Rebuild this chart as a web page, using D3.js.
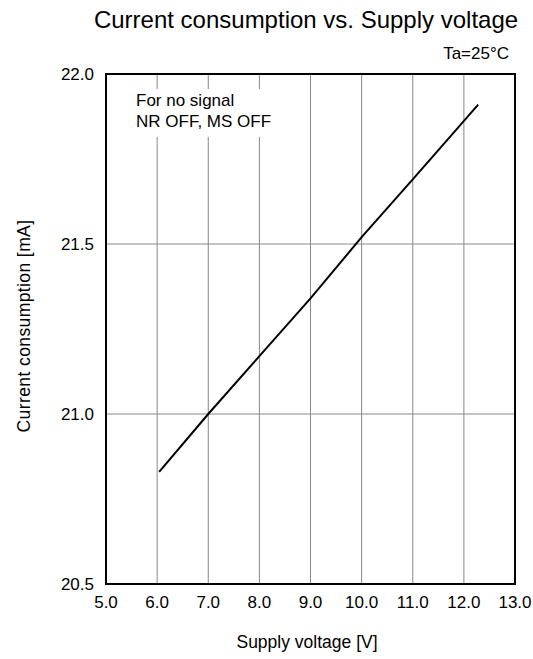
<!DOCTYPE html>
<html>
<head>
<meta charset="utf-8">
<script src="https://cdn.jsdelivr.net/npm/d3@7"></script>
<style>
body { margin:0; background:#fff; }
text { font-family: "Liberation Sans", Arial, sans-serif; fill:#000; }
</style>
</head>
<body>
<div id="chart"></div>
<script>
var voltage = [6.04, 7.0, 8.0, 9.0, 10.0, 11.0, 12.28];
var current = [20.83, 21.0, 21.17, 21.34, 21.52, 21.69, 21.91];
var xTicks = [5, 6, 7, 8, 9, 10, 11, 12, 13];
var yTicks = [20.5, 21.0, 21.5, 22.0];

var margin = {top: 74, right: 18, bottom: 75, left: 106};
var W = 533, H = 659;
var width = W - margin.left - margin.right;
var height = H - margin.top - margin.bottom;

var svg = d3.select("#chart").append("svg")
    .attr("width", W).attr("height", H);

var g = svg.append("g")
    .attr("transform", "translate(" + margin.left + "," + margin.top + ")");

var x = d3.scaleLinear().domain([5, 13]).range([0, width]);
var y = d3.scaleLinear().domain([20.5, 22.0]).range([height, 0]);

// grid
g.selectAll(".vgrid").data(xTicks.slice(1, -1)).enter().append("line")
  .attr("x1", d => x(d)).attr("x2", d => x(d))
  .attr("y1", 0).attr("y2", height)
  .attr("stroke", "#888").attr("stroke-width", 1);
g.selectAll(".hgrid").data(yTicks.slice(1, -1)).enter().append("line")
  .attr("x1", 0).attr("x2", width)
  .attr("y1", d => y(d)).attr("y2", d => y(d))
  .attr("stroke", "#888").attr("stroke-width", 1);

// annotation box hides grid behind text
g.append("rect")
  .attr("x", 20).attr("y", 15)
  .attr("width", 178).attr("height", 48)
  .attr("fill", "#fff");
g.append("text").attr("x", 30).attr("y", 32)
  .style("font-size", "17px").text("For no signal");
g.append("text").attr("x", 30).attr("y", 53)
  .style("font-size", "17px").text("NR OFF, MS OFF");

// frame
g.append("rect").attr("width", width).attr("height", height)
  .attr("fill", "none").attr("stroke", "#000").attr("stroke-width", 2);

// line
var line = d3.line().x((d, i) => x(voltage[i])).y(d => y(d));
g.append("path").datum(current)
  .attr("d", line)
  .attr("fill", "none").attr("stroke", "#000").attr("stroke-width", 2);

// tick labels
g.selectAll(".xl").data(xTicks).enter().append("text")
  .attr("x", d => x(d)).attr("y", height + 24)
  .attr("text-anchor", "middle").style("font-size", "17px")
  .text(d => d3.format(".1f")(d));
g.selectAll(".yl").data(yTicks).enter().append("text")
  .attr("x", -12).attr("y", d => y(d) + 6)
  .attr("text-anchor", "end").style("font-size", "17px")
  .text(d => d3.format(".1f")(d));

// titles
svg.append("text").attr("x", 306).attr("y", 28)
  .attr("text-anchor", "middle").style("font-size", "24px")
  .text("Current consumption vs. Supply voltage");
svg.append("text").attr("x", 509).attr("y", 59)
  .attr("text-anchor", "end").style("font-size", "17px")
  .text("Ta=25°C");
svg.append("text").attr("x", 307).attr("y", 648)
  .attr("text-anchor", "middle").style("font-size", "17.5px")
  .text("Supply voltage [V]");
svg.append("text")
  .attr("transform", "translate(30," + 326 + ") rotate(-90)")
  .attr("text-anchor", "middle").style("font-size", "17.5px")
  .style("letter-spacing", "0.4px")
  .text("Current consumption [mA]");
</script>
</body>
</html>
